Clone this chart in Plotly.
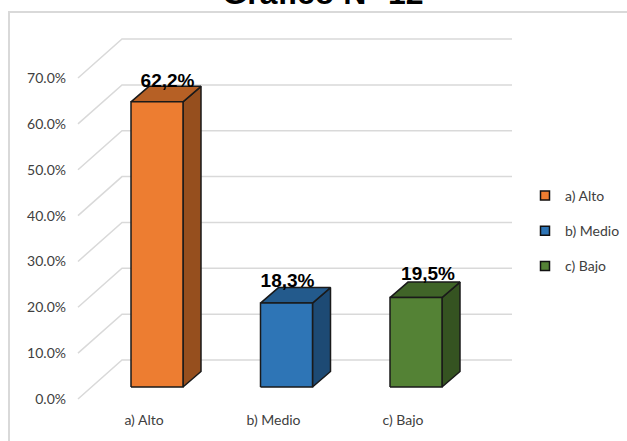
import plotly.graph_objects as go

categories = ["a) Alto", "b) Medio", "c) Bajo"]
values = [62.2, 18.3, 19.5]
value_labels = ["62,2%", "18,3%", "19,5%"]
front_colors = ["#ED7D31", "#2E75B6", "#548235"]
top_colors = ["#B66025", "#235A8C", "#406428"]
side_colors = ["#964F1E", "#1D4A74", "#355321"]
y_ticks = [0, 10, 20, 30, 40, 50, 60, 70]

W, H = 627, 441
# plot rectangle in page pixels
L, R, T, B = 67, 520, 30, 410
PX_X = 129.5          # pixels per category
PX_Y = 4.585          # pixels per percent
X0_PX = 144.0         # pixel of category 0 label
Y0_PX = 399.0         # pixel of 0% on the front plane
LABEL_NUDGE_X = [10.5, 1, 12]   # data-label offset from bar centre, px
LABEL_NUDGE_Y = [20, 21, 22]    # data-label offset above bar top, px


def xd(px):
    return px / PX_X


def yd(px):
    return px / PX_Y


fig = go.Figure()

# oblique-projection offsets, in data units
WALL_DX, WALL_DY = xd(44), yd(39)
WALL_END = xd(512 - 78)
LEFT = xd(78 - X0_PX)
BAR_DX = xd(-13)                # bar front-left offset from category position
BAR_W = xd(52)
BAR_BASE = yd(12)
DEPTH_DX, DEPTH_DY = xd(18), yd(15.5)

grid = dict(color="#D9D9D9", width=1.5)
for t in y_ticks:
    fig.add_trace(go.Scatter(
        x=[LEFT, LEFT + WALL_DX, LEFT + WALL_END],
        y=[t, t + WALL_DY, t + WALL_DY],
        mode="lines", line=grid, showlegend=False, hoverinfo="skip"))

edge = dict(color="#1A1A1A", width=1.5)
for i, (c, v) in enumerate(zip(categories, values)):
    x0 = i + BAR_DX
    x1 = x0 + BAR_W
    y0 = BAR_BASE
    y1 = BAR_BASE + v
    fig.add_trace(go.Scatter(
        x=[x1, x1 + DEPTH_DX, x1 + DEPTH_DX, x1, x1],
        y=[y0, y0 + DEPTH_DY, y1 + DEPTH_DY, y1, y0],
        fill="toself", fillcolor=side_colors[i], mode="lines", line=edge,
        showlegend=False, hoverinfo="skip"))
    fig.add_trace(go.Scatter(
        x=[x0, x1, x1 + DEPTH_DX, x0 + DEPTH_DX, x0],
        y=[y1, y1, y1 + DEPTH_DY, y1 + DEPTH_DY, y1],
        fill="toself", fillcolor=top_colors[i], mode="lines", line=edge,
        showlegend=False, hoverinfo="skip"))
    fig.add_trace(go.Scatter(
        x=[x0, x1, x1, x0, x0],
        y=[y0, y0, y1, y1, y0],
        fill="toself", fillcolor=front_colors[i], mode="lines", line=edge,
        showlegend=False, name=c, hoverinfo="name"))
    fig.add_trace(go.Scatter(
        x=[(x0 + x1) / 2 + xd(LABEL_NUDGE_X[i])], y=[y1 + yd(LABEL_NUDGE_Y[i])],
        mode="text", text=[value_labels[i]],
        textfont=dict(family="Liberation Sans Narrow, Liberation Sans", size=19,
                      color="#000000", weight="bold"),
        showlegend=False, hoverinfo="skip"))
    fig.add_trace(go.Scatter(
        x=[None], y=[None], mode="markers", name=c, legendgroup=c,
        marker=dict(symbol="square", size=9, color=front_colors[i],
                    line=dict(color="#111111", width=1.5))))

fig.update_layout(
    width=W, height=H, autosize=False,
    margin=dict(l=L, r=W - R, t=T, b=H - B, autoexpand=False),
    plot_bgcolor="#FFFFFF", paper_bgcolor="#FFFFFF",
    font=dict(family="Lato", color="#404040", size=14),
    title=dict(text="<b>Gráfico N° 12</b>", x=323 / W, xanchor="center",
               y=1 - 4 / H, yanchor="bottom",
               font=dict(family="Liberation Sans", size=32, color="#000000")),
    xaxis=dict(range=[(L - X0_PX) / PX_X, (R - X0_PX) / PX_X],
               tickvals=[0, 1, 2], ticktext=categories, showgrid=False, zeroline=False,
               showline=False, ticks="", tickfont=dict(size=14)),
    yaxis=dict(range=[(Y0_PX - B) / PX_Y, (Y0_PX - T) / PX_Y],
               tickvals=y_ticks, ticktext=[f"{t:.1f}%" for t in y_ticks],
               showgrid=False, zeroline=False, showline=False, ticks="", tickfont=dict(size=14)),
    legend=dict(x=(525 - L) / (R - L), xanchor="left", y=(B - 180) / (B - T), yanchor="top",
                tracegroupgap=14, font=dict(size=14, family="Lato"), bgcolor="rgba(0,0,0,0)",
                itemwidth=30),
    shapes=[dict(type="rect", xref="paper", yref="paper",
                 x0=(9 - L) / (R - L), x1=(640 - L) / (R - L),
                 y0=(B - 450) / (B - T), y1=(B - 12) / (B - T),
                 line=dict(color="#D9D9D9", width=2), fillcolor="rgba(0,0,0,0)", layer="below")],
)

fig.write_html("out.html", config={"displayModeBar": False},
               post_script="document.body.style.margin='0';document.documentElement.style.overflow='hidden';")
